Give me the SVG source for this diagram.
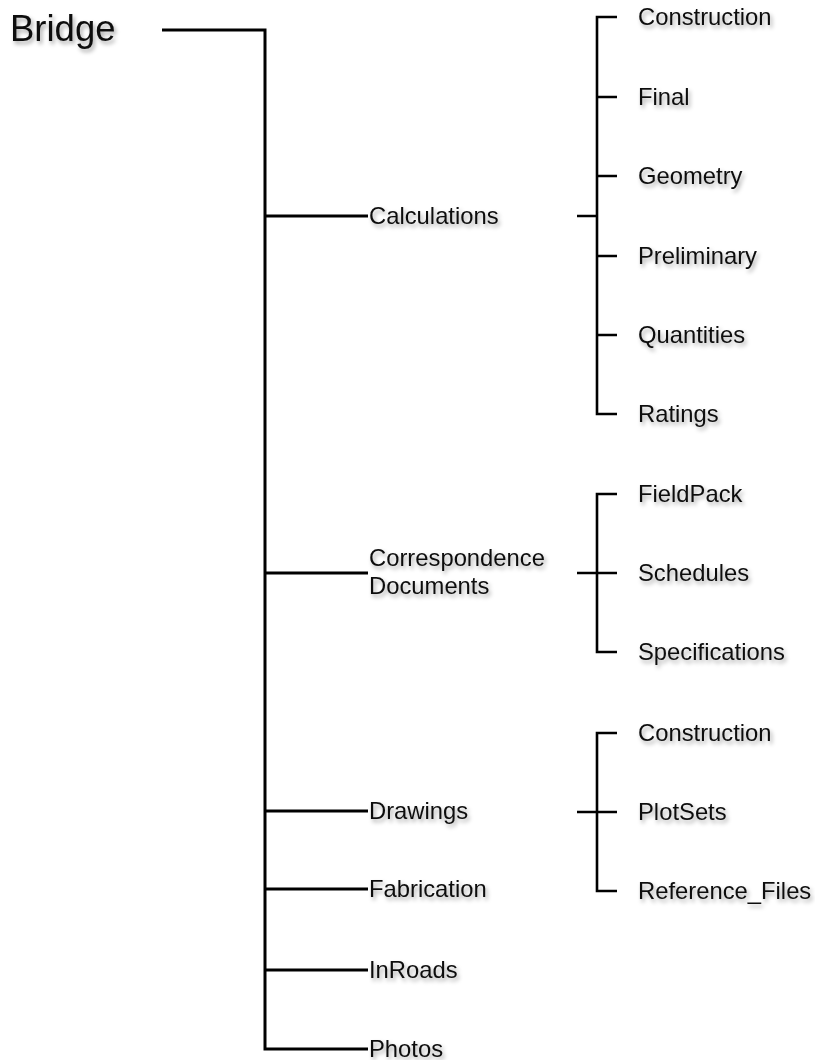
<svg xmlns="http://www.w3.org/2000/svg" width="815" height="1060" viewBox="0 0 815 1060">
<defs>
<filter id="sh" x="-10%" y="-30%" width="130%" height="180%">
<feDropShadow dx="2" dy="3" stdDeviation="2" flood-color="#000" flood-opacity="0.35"/>
</filter>
</defs>
<style>
text{font-family:"Liberation Sans",Arial,sans-serif;fill:#111;filter:url(#sh)}
.t{font-size:23.8px}
.root{font-size:36.5px}
.m{stroke:#000;stroke-width:3;fill:none;stroke-linecap:butt}
.s{stroke:#000;stroke-width:2.6;fill:none}
</style>
<rect width="815" height="1060" fill="#fff"/>
<g id="connectors">
<path class="m" d="M162 30 H265 V1049 H368"/>
<path class="m" d="M265 216 H368 M265 573 H368 M265 811 H368 M265 889 H368 M265 970 H368"/>
<path class="s" d="M617 17 H597 V414 H617 M597 97 H617 M597 176 H617 M597 256 H617 M597 335 H617 M577 216 H597"/>
<path class="s" d="M617 494 H597 V652 H617 M577 573 H617"/>
<path class="s" d="M617 733 H597 V891 H617 M577 812 H617"/>
</g>
<g id="bridge"><text class="root" x="10" y="41">Bridge</text></g>
<g id="calculations"><text class="t" x="369" y="224">Calculations</text></g>
<g id="correspondence"><text class="t" x="369" y="566">Correspondence</text><text class="t" x="369" y="593.5">Documents</text></g>
<g id="drawings"><text class="t" x="369" y="819">Drawings</text></g>
<g id="fabrication"><text class="t" x="369" y="897">Fabrication</text></g>
<g id="inroads"><text class="t" x="369" y="978">InRoads</text></g>
<g id="photos"><text class="t" x="369" y="1057">Photos</text></g>
<g id="calc-construction"><text class="t" x="638" y="25">Construction</text></g>
<g id="calc-final"><text class="t" x="638" y="105">Final</text></g>
<g id="calc-geometry"><text class="t" x="638" y="184">Geometry</text></g>
<g id="calc-preliminary"><text class="t" x="638" y="264">Preliminary</text></g>
<g id="calc-quantities"><text class="t" x="638" y="343">Quantities</text></g>
<g id="calc-ratings"><text class="t" x="638" y="422">Ratings</text></g>
<g id="corr-fieldpack"><text class="t" x="638" y="502">FieldPack</text></g>
<g id="corr-schedules"><text class="t" x="638" y="581">Schedules</text></g>
<g id="corr-specifications"><text class="t" x="638" y="660">Specifications</text></g>
<g id="draw-construction"><text class="t" x="638" y="741">Construction</text></g>
<g id="draw-plotsets"><text class="t" x="638" y="820">PlotSets</text></g>
<g id="draw-reference"><text class="t" x="638" y="899">Reference_Files</text></g>
</svg>
